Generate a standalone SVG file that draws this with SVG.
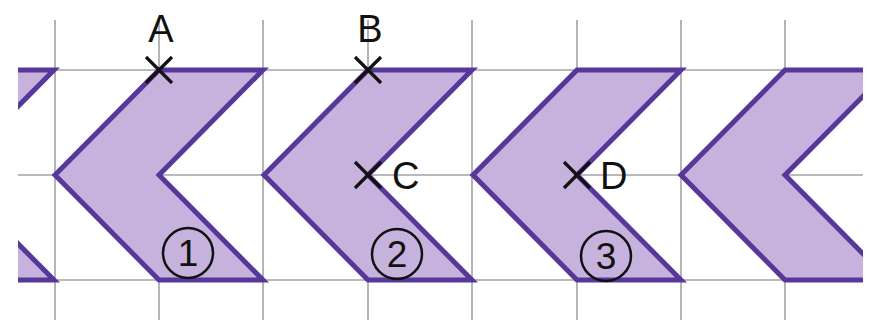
<svg xmlns="http://www.w3.org/2000/svg" width="872" height="320" viewBox="0 0 872 320">
<defs>
<style>
.grid{stroke:#a3a3a8;stroke-width:1.6;fill:none}
.chev{fill:#c6b2dc;stroke:#56389a;stroke-width:5;stroke-linejoin:miter;stroke-miterlimit:3}
.mark{stroke:#111;stroke-width:3.2;fill:none}
.lbl{font-family:"Liberation Sans",Arial,sans-serif;font-size:38px;fill:#111}
.num{font-family:"Liberation Sans",Arial,sans-serif;font-size:37px;fill:#111;text-anchor:middle}
.circ{fill:none;stroke:#111;stroke-width:2.5}
</style>
<clipPath id="clip"><rect x="18" y="0" width="845" height="320"/></clipPath>
<polygon id="chevron" class="chev" points="0,175 104,70 208,70 104,175 208,280 104,280"/>
<path id="x" class="mark" d="M-13,-13 L13,13 M-13,13 L13,-13"/>
</defs>
<rect width="872" height="320" fill="#ffffff"/>
<g id="grid">
<line class="grid" x1="55" y1="20" x2="55" y2="320"/>
<line class="grid" x1="159" y1="20" x2="159" y2="320"/>
<line class="grid" x1="263" y1="20" x2="263" y2="320"/>
<line class="grid" x1="368" y1="20" x2="368" y2="320"/>
<line class="grid" x1="472" y1="20" x2="472" y2="320"/>
<line class="grid" x1="577" y1="20" x2="577" y2="320"/>
<line class="grid" x1="681" y1="20" x2="681" y2="320"/>
<line class="grid" x1="785" y1="20" x2="785" y2="320"/>
<line class="grid" x1="18" y1="70" x2="863" y2="70"/>
<line class="grid" x1="18" y1="175" x2="863" y2="175"/>
<line class="grid" x1="18" y1="280" x2="863" y2="280"/>
</g>
<g id="shapes" clip-path="url(#clip)">
<g id="chevron0"><use href="#chevron" x="-154"/></g>
<g id="chevron1"><use href="#chevron" x="55"/></g>
<g id="chevron2"><use href="#chevron" x="264"/></g>
<g id="chevron3"><use href="#chevron" x="473"/></g>
<g id="chevron4"><use href="#chevron" x="681"/></g>
</g>
<g id="point-A"><use href="#x" x="159" y="70"/><text class="lbl" x="161" y="42" text-anchor="middle">A</text></g>
<g id="point-B"><use href="#x" x="368" y="70"/><text class="lbl" x="370" y="42" text-anchor="middle">B</text></g>
<g id="point-C"><use href="#x" x="368" y="175"/><text class="lbl" x="392" y="189">C</text></g>
<g id="point-D"><use href="#x" x="577" y="175"/><text class="lbl" x="600" y="189">D</text></g>
<g id="num-1"><circle class="circ" cx="188" cy="253" r="25"/><text class="num" x="188" y="266">1</text></g>
<g id="num-2"><circle class="circ" cx="397" cy="254" r="25"/><text class="num" x="397" y="267">2</text></g>
<g id="num-3"><circle class="circ" cx="606" cy="256" r="25"/><text class="num" x="606" y="269">3</text></g>
</svg>
